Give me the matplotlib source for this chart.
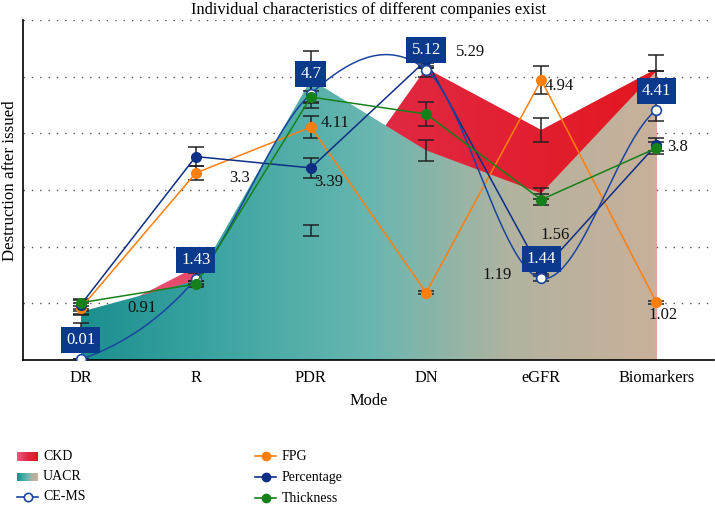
import numpy as np
import matplotlib.pyplot as plt
from matplotlib.colors import LinearSegmentedColormap

categories = ['DR', 'R', 'PDR', 'DN', 'eGFR', 'Biomarkers']

ckd = [0.6, 1.64, 2.28, 5.15, 4.06, 5.14]
ckd_err = [0.05, 0.3, 0.1, 0.0, 0.21, 0.25]
uacr = [0.85, 1.4, 4.95, 3.7, 2.94, 5.1]
uacr_err = [0.05, 0.0, 0.5, 0.19, 0.1, 0.0]
ce_ms = [0.01, 1.43, 4.7, 5.12, 1.44, 4.41]
ce_ms_err = [0.0, 0.1, 0.15, 0.12, 0.05, 0.2]
fpg = [0.91, 3.3, 4.11, 1.19, 4.94, 1.02]
fpg_err = [0.1, 0.12, 0.2, 0.03, 0.24, 0.03]
percentage = [0.97, 3.59, 3.39, 5.29, 1.56, 3.8]
percentage_err = [0.1, 0.17, 0.17, 0.1, 0.05, 0.12]
thickness = [1.01, 1.34, 4.64, 4.34, 2.83, 3.74]
thickness_err = [0.05, 0.05, 0.1, 0.21, 0.1, 0.1]

ckd_colors = ['#ea5c80', '#e02a45', '#e3171f']
uacr_colors = ['#1b8f8f', '#3fa6a3', '#68b6b0', '#b2b3a0', '#c9b09a']
navy_box = '#0b3a8c'
c_fpg = '#ff7f0e'
c_pct = '#0d2f84'
c_ce = '#1a45a0'
c_thk = '#16801a'

plt.rcParams['font.family'] = ['Liberation Serif', 'DejaVu Serif']

x = np.arange(len(categories))


def smooth_line(xp, yp, steps=60):
    # Catmull-Rom curve through the points (smoothed CE-MS line)
    yp = np.asarray(yp, float)
    n = len(yp)
    m = np.zeros(n)
    m[1:-1] = (yp[2:] - yp[:-2]) / 2
    m[0] = (yp[1] - yp[0]) / 2
    m[-1] = (yp[-1] - yp[-2]) / 2
    xs, ys = [], []
    for i in range(n - 1):
        t = np.linspace(0, 1, steps)
        h00 = 2 * t**3 - 3 * t**2 + 1
        h10 = t**3 - 2 * t**2 + t
        h01 = -2 * t**3 + 3 * t**2
        h11 = t**3 - t**2
        xs.append(xp[i] + t * (xp[i + 1] - xp[i]))
        ys.append(h00 * yp[i] + h10 * m[i] + h01 * yp[i + 1] + h11 * m[i + 1])
    return np.concatenate(xs), np.concatenate(ys)


def gradient_area(ax, xv, yv, colors, z):
    poly = ax.fill_between(xv, 0, yv, color='none', lw=0, zorder=z)
    cmap = LinearSegmentedColormap.from_list('g', colors)
    grad = np.linspace(0, 1, 256).reshape(1, -1)
    im = ax.imshow(grad, cmap=cmap, aspect='auto', origin='lower',
                   extent=[xv[0], xv[-1], 0, max(yv) + 0.1], zorder=z,
                   interpolation='bilinear')
    im.set_clip_path(poly.get_paths()[0], transform=ax.transData)


fig = plt.figure(figsize=(7.15, 5.05), dpi=100)
ax = fig.add_axes([23 / 715, 145 / 505, 691 / 715, 340 / 505])

gradient_area(ax, x, ckd, ckd_colors, 1)
gradient_area(ax, x, uacr, uacr_colors, 2)

ekw = dict(fmt='none', ecolor='#222222', elinewidth=1.1, capsize=5.5, capthick=1.1, zorder=3)
for vals, errs in [(ckd, ckd_err), (uacr, uacr_err), (fpg, fpg_err),
                   (percentage, percentage_err), (ce_ms, ce_ms_err), (thickness, thickness_err)]:
    ax.errorbar(x, vals, yerr=errs, **ekw)

ax.plot(x, fpg, color=c_fpg, lw=1.1, marker='o', ms=7, zorder=4)
ax.plot(x, percentage, color=c_pct, lw=1.1, marker='o', ms=7, zorder=5)
sx, sy = smooth_line(x, ce_ms)
ax.plot(sx, sy, color=c_ce, lw=1.1, zorder=6)
ax.plot(x, ce_ms, ls='none', marker='o', ms=7, mfc='white', mec=c_ce, mew=1.2, zorder=6)
ax.plot(x, thickness, color=c_thk, lw=1.1, marker='o', ms=7, zorder=7)

# boxed CE-MS values
for i, v in enumerate(ce_ms):
    ax.annotate(f'{v:g}', (i, v), xytext=(0, 14), textcoords='offset points',
                ha='center', va='center', color='white', fontsize=12, zorder=9,
                bbox=dict(boxstyle='square,pad=0.3', fc=navy_box, ec='none'))

# plain value labels (series, index, offset in px)
labels = [(fpg, 0, 61, 0), (fpg, 1, 44, 5), (percentage, 2, 18, 14), (fpg, 2, 24, -4),
          (percentage, 3, 44, -8), (fpg, 4, 18, 6), (fpg, 3, 71, -18),
          (percentage, 4, 14, -37), (percentage, 5, 21, 2), (fpg, 5, 7, 13)]
for series, i, dx, dy in labels:
    ax.annotate(f'{series[i]:g}', (i, series[i]), xytext=(dx * 0.72, -dy * 0.72),
                textcoords='offset points', ha='center', va='center',
                fontsize=12, color='#111111', zorder=9)

ax.set_xlim(-0.5, len(categories) - 0.5)
ax.set_ylim(0, 6)
ax.set_yticks([1, 2, 3, 4, 5, 6])
ax.set_yticklabels([])
ax.tick_params(axis='y', length=0)
ax.set_xticks(x)
ax.set_xticklabels(categories, fontsize=11.8)
ax.tick_params(axis='x', length=0, pad=7)
ax.grid(axis='y', color='#555555', ls=(0, (1, 5)), lw=1)
ax.set_axisbelow(True)
for s in ['top', 'right']:
    ax.spines[s].set_visible(False)
ax.spines['left'].set_linewidth(1.2)
ax.spines['bottom'].set_linewidth(1.2)
ax.set_xlabel('Mode', fontsize=11.8, labelpad=5)
ax.set_ylabel('Destruction after issued', fontsize=12.2)
ax.yaxis.set_label_coords(-0.007, 0.526)
ax.set_title('Individual characteristics of different companies exist', fontsize=11.9, pad=4)

# legend drawn in pixel space under the chart
lg = fig.add_axes([0, 0, 1, 1])
lg.axis('off')
grad = np.linspace(0, 1, 64).reshape(1, -1)
lg.imshow(grad, cmap=LinearSegmentedColormap.from_list('a', ckd_colors), aspect='auto',
          extent=[17, 38, 461, 452])
lg.imshow(grad, cmap=LinearSegmentedColormap.from_list('b', uacr_colors), aspect='auto',
          extent=[17, 38, 481, 473])
lg.plot([17, 38], [497, 497], color=c_ce, lw=1.2)
lg.plot([27.5], [497], marker='o', ms=6, mfc='white', mec=c_ce, mew=1.2)
for y, name in [(456, 'CKD'), (477, 'UACR'), (497, 'CE-MS')]:
    lg.text(43, y, name, fontsize=10, va='center', ha='left')
for y, name, c in [(456, 'FPG', c_fpg), (477, 'Percentage', c_pct), (498, 'Thickness', c_thk)]:
    lg.plot([255, 276], [y, y], color=c, lw=1.2)
    lg.plot([265.5], [y], marker='o', ms=6, color=c)
    lg.text(282, y, name, fontsize=10, va='center', ha='left')
lg.set_xlim(0, 715)
lg.set_ylim(505, 0)

fig.savefig('out.png', dpi=100)
